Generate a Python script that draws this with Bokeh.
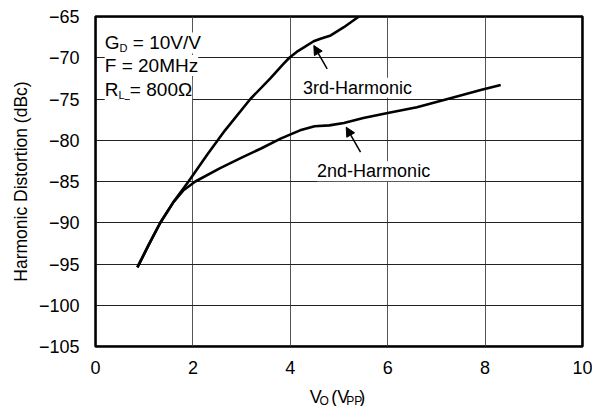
from bokeh.plotting import figure
from bokeh.layouts import column
from bokeh.models import Label, Arrow, NormalHead, FixedTicker, BoxAnnotation
from bokeh.core.properties import value
from bokeh.embed import file_html
from bokeh.resources import INLINE

# ---- data ----
x_3rd = [0.86, 1.10, 1.33, 1.60, 1.91, 2.30, 2.66, 3.18, 3.59, 3.85, 3.98, 4.13, 4.28, 4.48, 4.62, 4.83, 5.10, 5.41]
y_3rd = [-95.4, -92.6, -90.0, -87.5, -85.0, -81.7, -78.8, -75.0, -72.5, -70.8, -70.0, -69.3, -68.75, -68.0, -67.7, -67.3, -66.3, -65.0]

x_2nd = [0.86, 1.10, 1.33, 1.60, 1.80, 2.05, 2.55, 3.00, 3.40, 3.80, 4.20, 4.50, 4.80, 5.10, 5.50, 6.00, 6.60, 7.23, 7.91, 8.32]
y_2nd = [-95.4, -92.6, -90.0, -87.5, -86.1, -85.0, -83.4, -82.1, -81.0, -79.8, -78.8, -78.3, -78.2, -77.9, -77.3, -76.7, -76.0, -75.0, -73.9, -73.3]

x_ticks = [0, 2, 4, 6, 8, 10]
x_tick_labels = ["0", "2", "4", "6", "8", "10"]
y_ticks = [-105, -100, -95, -90, -85, -80, -75, -70, -65]
y_tick_labels = ["\u2212105", "\u2212100", "\u221295", "\u221290", "\u221285", "\u221280", "\u221275", "\u221270", "\u221265"]

FONT = "Liberation Sans"
FS = 18
FS_INSET = 19
SUB = 11

# Arial / Liberation Sans advance widths (per 1000 em)
W = {"G": 778, "D": 722, " ": 278, "=": 584, "1": 556, "0": 556, "V": 667, "/": 278,
     "F": 611, "2": 556, "M": 833, "H": 722, "z": 500, "R": 722, "L": 556, "8": 556,
     "\u03a9": 768, "O": 778, "P": 667, "(": 333, ")": 333}


def tw(s, size):
    return sum(W.get(c, 556) for c in s) * size / 1000.0


p = figure(width=592, height=378, x_range=(0, 10), y_range=(-105, -65),
           output_backend="svg", toolbar_location=None, title=None,
           min_border_left=95, min_border_right=10, min_border_top=16, min_border_bottom=32)
p.background_fill_color = "white"
p.border_fill_color = "white"
p.outline_line_color = "black"
p.outline_line_width = 2.5

p.xaxis.ticker = FixedTicker(ticks=x_ticks)
p.yaxis.ticker = FixedTicker(ticks=y_ticks)
p.xaxis.major_label_overrides = dict(zip(x_ticks, x_tick_labels))
p.yaxis.major_label_overrides = dict(zip(y_ticks, y_tick_labels))
for ax in (p.xaxis, p.yaxis):
    ax.axis_line_color = None
    ax.major_tick_line_color = None
    ax.minor_tick_line_color = None
    ax.major_tick_out = 0
    ax.major_tick_in = 0
    ax.major_label_text_font = FONT
    ax.major_label_text_font_size = f"{FS}px"
    ax.major_label_text_color = "black"
p.xaxis.major_label_standoff = 14
p.yaxis.major_label_standoff = 16
p.yaxis.axis_label = "Harmonic Distortion (dBc)"
p.yaxis.axis_label_text_font = FONT
p.yaxis.axis_label_text_font_size = "17.5px"
p.yaxis.axis_label_text_font_style = "normal"
p.yaxis.axis_label_text_color = "black"
p.yaxis.axis_label_standoff = 5

p.xgrid.grid_line_color = "#555555"
p.ygrid.grid_line_color = "#222222"
p.xgrid.grid_line_width = 1
p.ygrid.grid_line_width = 1

p.line(x_3rd, y_3rd, line_color="black", line_width=2.6, line_join="round")
p.line(x_2nd, y_2nd, line_color="black", line_width=2.6, line_join="round")

# heavy frame
p.add_layout(BoxAnnotation(left=0, right=10, bottom=-105, top=-65, fill_alpha=0,
                           line_color="black", line_width=3))


def piece(fig, x, y, text, size, dx, dy=0, bg=True):
    lab = Label(x=x, y=y, x_units="data", y_units="data", text=text,
                text_font=FONT, text_font_size=f"{size}px", text_color="black",
                text_baseline="alphabetic", text_align="left",
                x_offset=dx, y_offset=dy)
    if bg:
        lab.background_fill_color = "white"
    fig.add_layout(lab)


def compose(fig, x, y, parts, size, sub, sub_dy, bg=True):
    # parts: (text, is_subscript); leading spaces are turned into offsets
    dx = 0.0
    for txt, is_sub in parts:
        sz = sub if is_sub else size
        stripped = txt.lstrip(" ")
        dx += tw(txt[:len(txt) - len(stripped)], sz)
        piece(fig, x, y, stripped, sz, dx, sub_dy if is_sub else 0, bg)
        dx += tw(stripped, sz)


# conditions
compose(p, 0.19, -68.2, [("G", False), ("D", True), (" = 10V/V", False)], FS_INSET, SUB, -5)
compose(p, 0.19, -70.95, [("F = 20MHz", False)], FS_INSET, SUB, -5)
compose(p, 0.19, -73.9, [("R", False), ("L", True), (" = 800\u03a9", False)], FS_INSET, SUB, -5)

# curve labels
piece(p, 4.26, -73.65, "3rd-Harmonic", FS, 0)
piece(p, 4.55, -83.75, "2nd-Harmonic", FS, 0)

head = dict(size=9, fill_color="black", line_color="black")
p.add_layout(Arrow(end=NormalHead(**head), x_start=4.757, y_start=-71.34, x_end=4.483, y_end=-68.52,
                   line_color="black", line_width=1.5))
p.add_layout(Arrow(end=NormalHead(**head), x_start=5.442, y_start=-81.45, x_end=5.148, y_end=-78.42,
                   line_color="black", line_width=1.5))

# x-axis title strip
p2 = figure(width=592, height=28, x_range=(0, 592), y_range=(0, 28), x_axis_type=None, y_axis_type=None,
            output_backend="svg", toolbar_location=None, min_border=0, title=None)
p2.outline_line_color = None
p2.background_fill_color = "white"
p2.border_fill_color = "white"
xparts = [("V", False), ("O", True), (" (V", False), ("PP", True), (")", False)]
XSUB = 12
total = sum(tw(t, XSUB if s else FS) for t, s in xparts)
cx = 293.5 - total / 2
for txt, is_sub in xparts:
    sz = XSUB if is_sub else FS
    stripped = txt.lstrip(" ")
    cx += tw(txt[:len(txt) - len(stripped)], sz)
    p2.text(x=[cx], y=[6 if is_sub else 10], text=[stripped], text_font=value(FONT),
            text_font_size=value(f"{sz}px"), text_color="black",
            text_baseline="alphabetic", text_align="left")
    cx += tw(stripped, sz)

layout = column(p, p2, spacing=0)
open("out.html", "w").write(file_html(layout, INLINE))
